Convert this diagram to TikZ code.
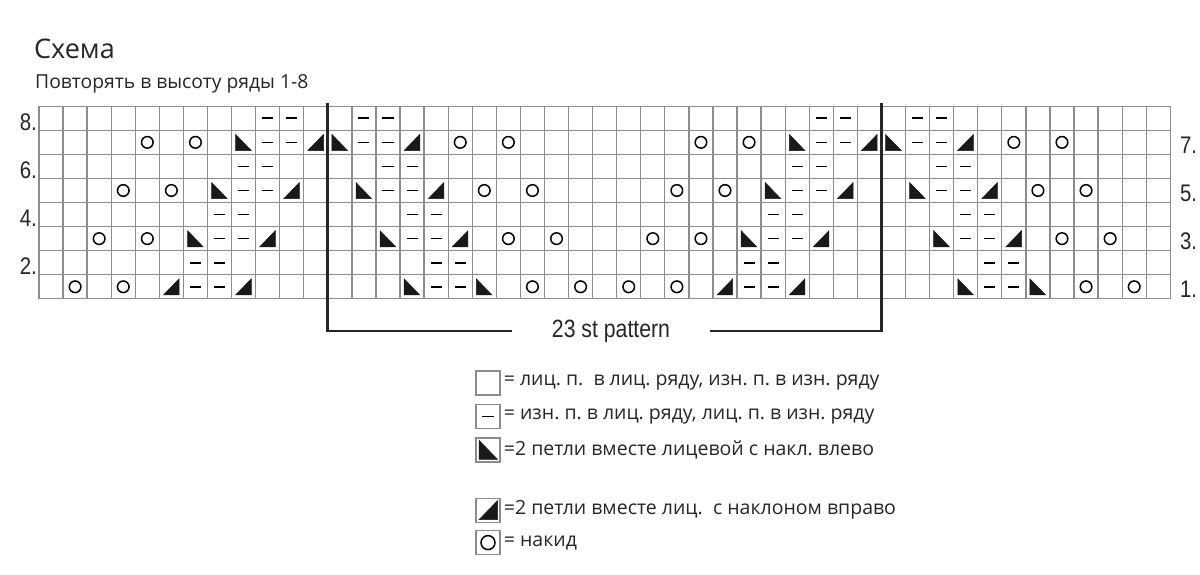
\documentclass[tikz,border=0pt]{standalone}
\usepackage{fontspec}
\setmainfont{Open Sans}
\newfontfamily\numfont[FakeStretch=0.85]{Liberation Sans}
\usetikzlibrary{positioning}

\begin{document}
\begin{tikzpicture}[x=1pt,y=-1pt,
  cell/.style={draw=black!45,line width=1.3pt},
  purl/.style={draw=black,line width=1.6pt},
  yo/.style={draw=black,line width=1.5pt},
  dec/.style={fill=black!90,draw=black!90,line width=0.5pt,line join=miter},
  rpt/.style={draw=black!85,line width=2.8pt},
  lbl/.style={font=\numfont\fontsize{24}{24}\selectfont,inner sep=0pt,text=black!85},
  key/.style={draw=black!45,line width=1.4pt,minimum size=24pt,inner sep=0pt},
  keytxt/.style={font=\fontsize{19.5}{22}\selectfont,inner sep=1pt,text=black!85}]
\fill[white] (0,0) rectangle (1200,574);
\useasboundingbox (0,0) rectangle (1200,574);
\frenchspacing

\node[anchor=base west,font=\fontsize{27}{30}\selectfont,inner sep=0pt,text=black!85] (title) at (34,58.5) {Схема};
\node[anchor=base west,font=\fontsize{19.3}{22}\selectfont,inner sep=0pt,text=black!85] (sub) at (35,88) {Повторять в высоту ряды 1-8};

% chart, one unit = one stitch
\begin{scope}[shift={(39,298.8)},x=24.07pt,y=24.07pt]
  \draw[cell,step=1] (0,0) grid (47,8);
  \foreach \r in {2,4,6,8}
    \node[lbl,anchor=base east] (lab\r) at (-0.08,\r-1) {\r.};
  \foreach \r in {1,3,5,7}
    \node[lbl,anchor=base west] (lab\r) at (47.4,\r-0.95) {\r.};
  \begin{scope}
  \clip (0,0) rectangle (47,8);
  \foreach \o in {-23,0,23}{
    \begin{scope}[shift={(\o,0)}]
    % purl
    \foreach \k/\r in {5/1,6/1,18/1,19/1,5/2,6/2,18/2,19/2,4/3,5/3,19/3,20/3,4/4,5/4,19/4,20/4,
                       3/5,4/5,20/5,21/5,3/6,4/6,20/6,21/6,2/7,3/7,21/7,22/7,2/8,3/8,21/8,22/8}
      \draw[purl] (\k+11.27,\r-0.5) -- (\k+11.73,\r-0.5);
    % yarn over
    \foreach \k/\r in {9/1,11/1,13/1,15/1,8/3,10/3,14/3,16/3,7/5,9/5,15/5,17/5,6/7,8/7,16/7,18/7}
      \draw[yo] (\k+11.5,\r-0.5) circle[radius=5.8pt];
    % left slant
    \foreach \k/\r in {4/1,7/1,3/3,18/3,2/5,19/5,1/7,20/7}
      \filldraw[dec] (\k+11.17,\r-0.17) -- (\k+11.17,\r-0.84) -- (\k+11.82,\r-0.84) -- cycle;
    % right slant
    \foreach \k/\r in {17/1,20/1,6/3,21/3,5/5,22/5,4/7,23/7}
      \filldraw[dec] (\k+11.82,\r-0.17) -- (\k+11.82,\r-0.84) -- (\k+11.17,\r-0.84) -- cycle;
    \end{scope}
  }
  \end{scope}
\end{scope}

% repeat
\coordinate (repL) at (327.8,102.5);
\coordinate (repR) at (881.5,102.5);
\node[font=\numfont\fontsize{25}{25}\selectfont,inner xsep=40pt,inner ysep=0pt,text=black!85] (rep) at (611,331) {23 st pattern};
\draw[rpt] (repL) |- (rep.west);
\draw[rpt] (repR) |- (rep.east);

% key
\node[key] (k1) at (488,383) {};
\node[key,below=8pt of k1] (k2) {};
\node[key,below=8pt of k2] (k3) {};
\node[key,below=35pt of k3] (k4) {};
\node[key,below=7pt of k4] (k5) {};
\draw[purl] ([xshift=-6pt]k2.center) -- ([xshift=6pt]k2.center);
\filldraw[dec] ([shift={(-9pt,9.5pt)}]k3.center) -- ([shift={(-9pt,-9.5pt)}]k3.center) -- ([shift={(9.5pt,-9.5pt)}]k3.center) -- cycle;
\filldraw[dec] ([shift={(9.5pt,9.5pt)}]k4.center) -- ([shift={(9.5pt,-9.5pt)}]k4.center) -- ([shift={(-9pt,-9.5pt)}]k4.center) -- cycle;
\draw[yo] (k5.center) circle[radius=7pt];
\node[keytxt,right=2pt of k1] (t1) {= лиц. п.\ \ в лиц. ряду, изн. п. в изн. ряду};
\node[keytxt,right=2pt of k2] (t2) {= изн. п. в лиц. ряду, лиц. п. в изн. ряду};
\node[keytxt,right=2pt of k3] (t3) {=2 петли вместе лицевой с накл. влево};
\node[keytxt,right=2pt of k4] (t4) {=2 петли вместе лиц.\ \ с наклоном вправо};
\node[keytxt,right=2pt of k5] (t5) {= накид};
\end{tikzpicture}
\end{document}
